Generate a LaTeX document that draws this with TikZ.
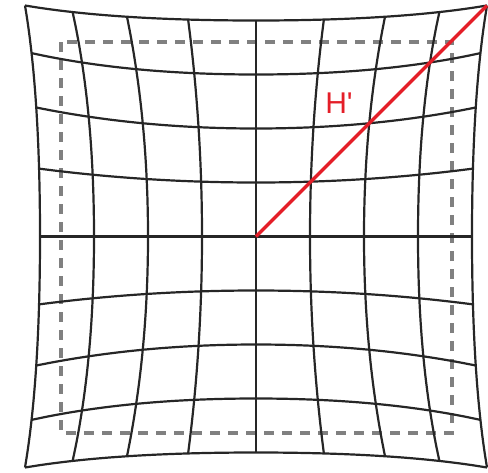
\documentclass[tikz,border=0pt]{standalone}
\usepackage{fontspec}
\setmainfont{Liberation Sans}
\usepackage{xcolor}
\definecolor{hred}{RGB}{228,30,40}
\definecolor{framegray}{RGB}{128,128,128}

\begin{document}
\begin{tikzpicture}[
    x=0.5pt, y=-0.5pt,
    gridline/.style={black!85, line width=1.1pt},
    frame/.style={framegray, line width=1.8pt, dash pattern=on 5pt off 4pt},
    ray/.style={hred, line width=1.6pt},
    label/.style={hred, font=\fontsize{15}{15}\selectfont}
]
    \useasboundingbox (0,0) rectangle (488,472);
    % centre, half size, bow of the lines
    \def\cx{256} \def\cy{236.5} \def\hs{216} \def\ba{69} \def\bb{54}

    % undistorted frame
    \draw[frame] (61,42) rectangle (452,433);

    % distorted grid, vertical and horizontal lines
    \foreach \i in {-4,...,4}{
        \pgfmathsetmacro\u{\i/4}
        \pgfmathsetmacro\bu{\ba*(\u)-\bb*(\u)*abs(\u)}
        \draw[gridline] plot[smooth, domain=-1:1, samples=25]
            ({\cx+\hs*(\u)+(\bu)*\x*\x}, {\cy+\hs*\x+(\ba*\x-\bb*\x*abs(\x))*(\u)*(\u)});
        \draw[gridline] plot[smooth, domain=-1:1, samples=25]
            ({\cx+\hs*\x+(\ba*\x-\bb*\x*abs(\x))*(\u)*(\u)}, {\cy+\hs*(\u)+(\bu)*\x*\x});
    }

    % ray to the corner
    \coordinate (centre) at (\cx,\cy);
    \coordinate (corner) at ({\cx+\hs+\ba-\bb},{\cy-\hs-\ba+\bb});
    \draw[ray] (centre) -- (corner);
    \node[label] (hlabel) at (339,103) {H\textquotesingle};
\end{tikzpicture}
\end{document}
